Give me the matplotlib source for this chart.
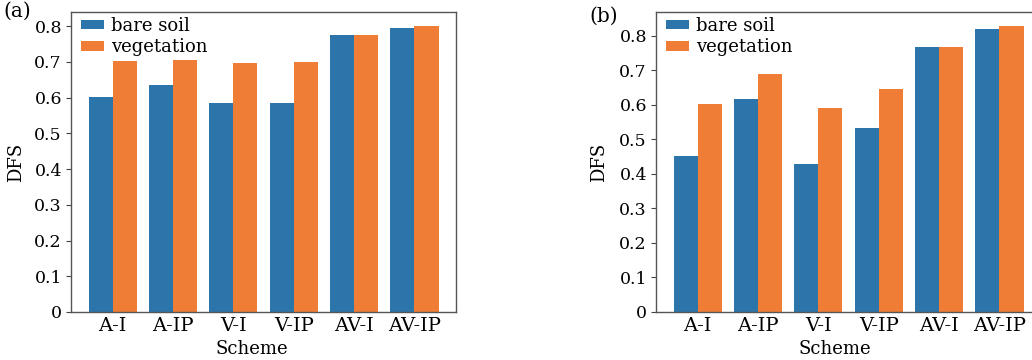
import matplotlib
matplotlib.use("Agg")
import matplotlib.pyplot as plt
import numpy as np
from matplotlib.ticker import FuncFormatter

schemes = ["A-I", "A-IP", "V-I", "V-IP", "AV-I", "AV-IP"]
series_names = ["bare soil", "vegetation"]

dfs_a_bare = [0.601, 0.636, 0.584, 0.586, 0.775, 0.794]
dfs_a_veg = [0.702, 0.706, 0.697, 0.700, 0.777, 0.801]

dfs_b_bare = [0.451, 0.618, 0.428, 0.533, 0.767, 0.819]
dfs_b_veg = [0.603, 0.688, 0.590, 0.647, 0.767, 0.828]

panel_tags = ["(a)", "(b)"]
yticks = [0, 0.1, 0.2, 0.3, 0.4, 0.5, 0.6, 0.7, 0.8]

BLUE = "#2c75aa"
ORANGE = "#f07d35"

plt.rcParams["font.family"] = ["DejaVu Serif"]

W, H = 1032, 360
fig = plt.figure(figsize=(W / 100, H / 100), dpi=100)

ax_a = fig.add_axes([71 / W, 48 / H, 385 / W, 300 / H])
ax_b = fig.add_axes([656 / W, 48 / H, 385 / W, 300 / H])

x = np.arange(len(schemes))
bw = 0.4

for ax, bare, veg, ytop in [(ax_a, dfs_a_bare, dfs_a_veg, 0.84),
                            (ax_b, dfs_b_bare, dfs_b_veg, 0.869)]:
    ax.bar(x - bw / 2, bare, bw, color=BLUE, label=series_names[0])
    ax.bar(x + bw / 2, veg, bw, color=ORANGE, label=series_names[1])
    ax.set_ylim(0, ytop)
    ax.set_xticks(x)
    ax.set_xticklabels(schemes)
    ax.set_yticks(yticks)
    ax.yaxis.set_major_formatter(FuncFormatter(lambda v, p: "%g" % round(v, 2)))
    ax.tick_params(axis="x", length=0, pad=3.5, labelsize=14)
    ax.tick_params(axis="y", length=3.5, width=0.8, pad=3, labelsize=12.5, color="#444444")
    for s in ax.spines.values():
        s.set_color("#555555")
        s.set_linewidth(1.0)
    ax.set_ylabel("DFS", fontsize=13)
    ax.set_xlabel("Scheme", fontsize=13)
    ax.legend(loc="upper left", bbox_to_anchor=(0.008, 1.008), frameon=False,
              fontsize=13, handlelength=1.25, handleheight=0.45,
              handletextpad=0.4, labelspacing=0.2, borderaxespad=0.1,
              borderpad=0.3)

ax_a.yaxis.set_label_coords(-0.12, 0.5)
ax_b.yaxis.set_label_coords(-0.125, 0.5)
ax_a.xaxis.set_label_coords(0.47, -0.095)
ax_b.xaxis.set_label_coords(0.465, -0.095)

fig.text(3 / W, 1 - 2 / H, panel_tags[0], fontsize=14.5, va="top", ha="left")
fig.text(589 / W, 1 - 7 / H, panel_tags[1], fontsize=14.5, va="top", ha="left")

fig.savefig("out.png", dpi=100)
